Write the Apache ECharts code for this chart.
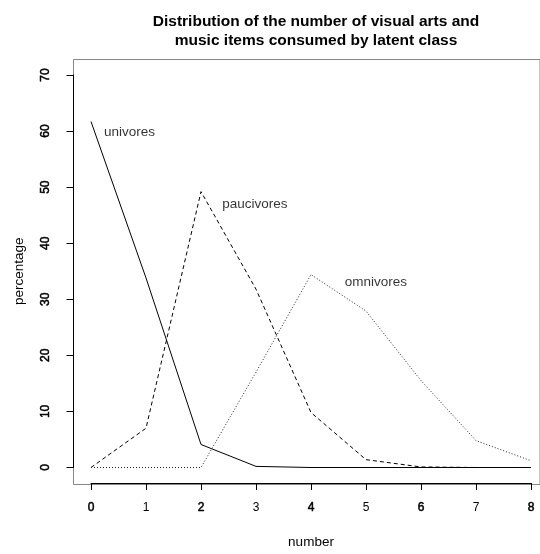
<!DOCTYPE html>
<html>
<head>
<meta charset="utf-8">
<script src="https://cdn.jsdelivr.net/npm/echarts@6/dist/echarts.min.js"></script>
<style>
  html, body { margin: 0; padding: 0; background: #fff; }
  #container { width: 540px; height: 554px; }
</style>
</head>
<body>
<div id="container"></div>
<script>
// number of items consumed (x axis)
var xValues = [0, 1, 2, 3, 4, 5, 6, 7, 8];
// percentage per latent class
var univores = [61.7, 33.8, 4.1, 0.2, 0, 0, 0, 0, 0];
var paucivores = [0, 7.0, 49.2, 31.8, 9.8, 1.4, 0.1, 0, 0];
var omnivores = [0, 0, 0, 17.0, 34.4, 27.9, 15.5, 4.8, 1.2];
// class labels written inside the plot
var labelNames = ['univores', 'paucivores', 'omnivores'];
var labelX = [0.7, 2.98, 5.18];
var labelY = [59.8, 46.9, 33.0];
var yTicks = [0, 10, 20, 30, 40, 50, 60, 70];

var FONT = '"Liberation Sans", Arial, Helvetica, sans-serif';

function pairs(ys) {
  return xValues.map(function (x, i) { return [x, ys[i]]; });
}

var dom = document.getElementById('container');
var myChart = echarts.init(dom, null, {renderer: 'canvas'});

var option = {
  animation: false,
  backgroundColor: '#fff',
  title: {
    text: 'Distribution of the number of visual arts and\nmusic items consumed by latent class',
    left: 311,
    top: 6.5,
    textAlign: 'center',
    textStyle: {
      fontFamily: FONT,
      fontSize: 15.5,
      fontWeight: 'bold',
      color: '#000',
      lineHeight: 19.5
    }
  },
  grid: [
    // plot box (R draws it 4% outside the data range)
    {left: 73.5, top: 59.5, width: 476, height: 425, show: true,
      borderColor: '#888', borderWidth: 1, backgroundColor: 'transparent'},
    // data region
    {left: 91, top: 75, width: 440, height: 394}
  ],
  xAxis: [
    {gridIndex: 0, type: 'value', show: false, min: 0, max: 1},
    {
      gridIndex: 1, type: 'value', min: 0, max: 8, interval: 1,
      offset: 15.5, z: 5,
      name: 'number', nameLocation: 'middle', nameGap: 52,
      nameTextStyle: {fontFamily: FONT, fontSize: 13.5, color: '#000'},
      axisLine: {show: true, onZero: false, lineStyle: {color: '#000', width: 1}},
      axisTick: {show: true, length: 7, lineStyle: {color: '#000', width: 1}},
      splitLine: {show: false},
      axisLabel: {
        margin: 19, fontFamily: FONT, fontSize: 12, color: '#000',
        formatter: function (v) { return v % 2 === 0 ? '{b|' + v + '}' : '{a|' + v + '}'; },
        rich: {
          a: {fontFamily: FONT, fontSize: 12, color: '#000'},
          b: {fontFamily: FONT, fontSize: 12, color: '#000', textBorderColor: '#000', textBorderWidth: 0.5}
        }
      }
    }
  ],
  yAxis: [
    {gridIndex: 0, type: 'value', show: false, min: 0, max: 1},
    {
      gridIndex: 1, type: 'value', min: 0, max: 70, interval: 10,
      offset: 17.5, z: 5,
      name: 'percentage', nameLocation: 'middle', nameGap: 47, nameRotate: 90,
      nameTextStyle: {fontFamily: FONT, fontSize: 13.5, color: '#000'},
      axisLine: {show: true, onZero: false, lineStyle: {color: '#000', width: 1}},
      axisTick: {show: true, length: 7, lineStyle: {color: '#000', width: 1}},
      splitLine: {show: false},
      axisLabel: {
        margin: 22, rotate: 90, fontFamily: FONT, fontSize: 12, color: '#000',
        textBorderColor: '#000', textBorderWidth: 0.5,
        customValues: yTicks
      }
    }
  ],
  series: [
    {
      name: 'univores', type: 'line', xAxisIndex: 1, yAxisIndex: 1,
      data: pairs(univores), symbol: 'none',
      lineStyle: {color: '#000', width: 1, type: 'solid'}
    },
    {
      name: 'paucivores', type: 'line', xAxisIndex: 1, yAxisIndex: 1,
      data: pairs(paucivores), symbol: 'none',
      lineStyle: {color: '#000', width: 1, type: [4, 3]}
    },
    {
      name: 'omnivores', type: 'line', xAxisIndex: 1, yAxisIndex: 1,
      data: pairs(omnivores), symbol: 'none',
      lineStyle: {color: '#222', width: 1, type: [1, 2]}
    },
    {
      name: 'labels', type: 'scatter', xAxisIndex: 1, yAxisIndex: 1,
      symbolSize: 0, silent: true,
      data: labelNames.map(function (n, i) { return {name: n, value: [labelX[i], labelY[i]]}; }),
      label: {
        show: true, position: 'inside', formatter: '{b}',
        fontFamily: FONT, fontSize: 13.5, color: '#000'
      }
    }
  ]
};
myChart.setOption(option, true);
</script>
</body>
</html>
